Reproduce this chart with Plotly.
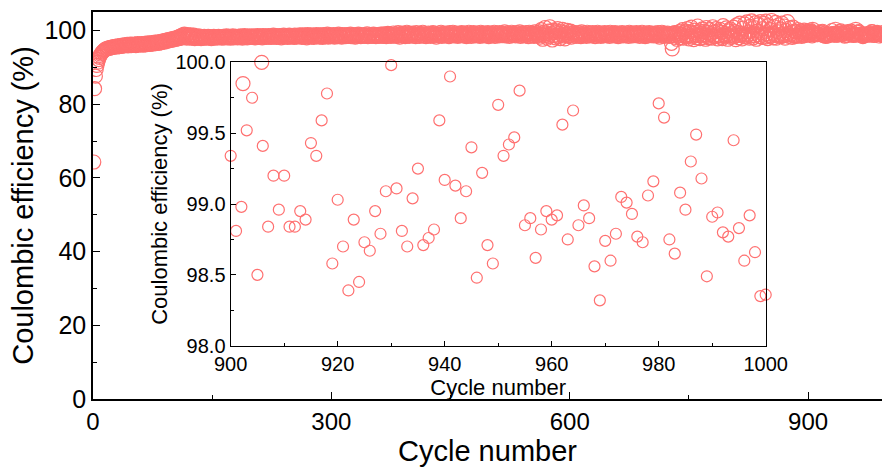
import plotly.graph_objects as go

# ---------------- data ----------------
# Coulombic efficiency (%) of the full run, listed by starting cycle
ce_c001 = [64.3, 84.2, 87.6, 89.4, 90.5, 91.4, 92.1, 92.7, 93.2, 93.6, 93.9, 94.2, 94.4, 94.6, 94.8, 94.9, 95.1, 95.0, 95.2, 95.3,
           95.1, 95.4, 95.3, 95.5, 95.4, 95.6, 95.5, 95.7, 95.6, 95.5, 95.8, 95.7, 95.6, 95.9, 95.8, 95.7, 96.0, 95.8, 95.9, 96.1,
           95.9, 96.0, 96.2, 95.8, 96.1, 96.0, 96.3, 95.9, 96.2, 96.1, 96.0, 96.3, 96.2, 95.9, 96.1, 96.4, 96.0, 96.2, 96.3, 96.1,
           96.4, 96.2, 96.0, 96.3, 96.5, 96.1, 96.4, 96.2, 96.6, 96.3, 96.5, 96.2, 96.4, 96.7, 96.3, 96.6, 96.5, 96.8, 96.4, 96.7,
           96.6, 96.9, 96.5, 96.8, 97.0, 96.7, 97.1, 96.9, 97.2, 96.8, 97.3, 97.0, 97.4, 97.1, 97.5, 97.2, 97.6, 97.3, 97.7, 97.4]
ce_c101 = [97.8, 97.5, 97.9, 97.6, 98.0, 97.7, 98.2, 97.8, 98.4, 97.9, 98.6, 98.0, 98.8, 98.2, 99.0, 98.1, 98.7, 97.9, 98.9, 98.3,
           98.6, 98.0, 98.8, 97.9, 98.5, 98.2, 98.7, 97.8, 98.4, 98.1, 98.3, 97.9, 98.5, 98.0, 98.2, 97.8, 98.3, 98.1, 97.9, 98.4,
           98.0, 98.3, 97.9, 98.2, 98.4, 98.0, 98.1, 98.3, 97.8, 98.2, 98.0, 98.4, 98.1, 97.9, 98.3, 98.2, 98.0, 98.4, 98.1, 98.2,
           98.3, 97.9, 98.2, 98.4, 98.0, 98.3, 98.1, 98.5, 98.0, 98.2, 98.4, 98.1, 97.9, 98.3, 98.2, 98.5, 98.0, 98.3, 98.1, 98.4,
           98.2, 98.0, 98.4, 98.3, 98.1, 98.5, 98.2, 97.9, 98.4, 98.2, 98.6, 98.1, 98.3, 98.0, 98.4, 98.2, 98.5, 98.1, 98.3, 98.4]
ce_c201 = [98.1, 98.5, 98.2, 98.0, 98.4, 98.3, 98.6, 98.1, 98.3, 98.5, 98.2, 98.4, 98.0, 98.6, 98.3, 98.2, 98.5, 98.1, 98.4, 98.3,
           98.6, 98.2, 98.4, 98.1, 98.5, 98.3, 98.7, 98.2, 98.4, 98.6, 98.1, 98.5, 98.3, 98.2, 98.6, 98.4, 98.0, 98.5, 98.3, 98.7,
           98.2, 98.4, 98.6, 98.3, 98.1, 98.5, 98.7, 98.2, 98.4, 98.6, 98.3, 98.5, 98.1, 98.7, 98.4, 98.2, 98.6, 98.3, 98.5, 98.8,
           98.3, 98.6, 98.1, 98.8, 98.4, 98.2, 98.7, 98.5, 98.0, 98.9, 98.3, 98.6, 98.4, 98.8, 98.2, 98.5, 98.7, 98.1, 98.6, 98.4,
           98.9, 98.3, 98.5, 98.7, 98.2, 98.8, 98.4, 98.6, 98.1, 98.9, 98.5, 98.3, 98.7, 98.4, 99.0, 98.2, 98.6, 98.8, 98.3, 98.5]
ce_c301 = [98.7, 98.4, 98.9, 98.2, 98.6, 98.5, 98.8, 98.3, 99.0, 98.5, 98.4, 98.7, 98.2, 98.9, 98.6, 98.4, 98.8, 98.3, 98.6, 98.9,
           98.4, 98.7, 98.5, 99.0, 98.3, 98.6, 98.8, 98.4, 98.7, 98.2, 98.9, 98.5, 98.6, 99.0, 98.4, 98.7, 98.3, 98.8, 98.6, 98.5,
           98.9, 98.4, 98.7, 98.6, 99.1, 98.3, 98.8, 98.5, 98.7, 98.9, 98.4, 98.6, 99.0, 98.5, 98.8, 98.3, 98.7, 98.9, 98.6, 98.4,
           98.8, 99.0, 98.5, 98.7, 98.4, 99.1, 98.6, 98.9, 98.3, 98.8, 99.2, 98.5, 98.7, 99.0, 98.4, 98.9, 98.6, 99.3, 98.5, 98.8,
           99.1, 98.4, 98.9, 99.4, 98.6, 98.2, 99.0, 98.7, 99.3, 98.5, 98.9, 99.2, 98.3, 98.8, 99.5, 98.6, 99.0, 98.4, 99.2, 98.7]
ce_c401 = [98.9, 99.3, 98.5, 98.8, 99.1, 98.3, 99.4, 98.7, 98.9, 99.0, 98.4, 99.2, 98.6, 98.8, 99.5, 98.5, 99.1, 98.9, 98.3, 99.0,
           98.7, 99.3, 98.6, 99.0, 98.4, 99.2, 98.8, 99.4, 98.5, 98.9, 99.1, 98.2, 99.0, 98.7, 99.3, 98.6, 98.9, 99.5, 98.4, 99.1,
           98.8, 99.0, 98.5, 99.3, 98.7, 98.9, 99.2, 98.3, 99.4, 98.6, 99.0, 98.8, 99.5, 98.5, 99.1, 98.7, 98.9, 99.3, 98.4, 99.0,
           98.6, 99.2, 98.8, 99.4, 98.5, 99.0, 98.7, 99.3, 98.9, 98.3, 99.1, 98.6, 99.5, 98.8, 99.0, 98.4, 99.2, 98.7, 99.4, 98.9,
           98.5, 99.1, 98.8, 99.3, 98.6, 99.0, 98.4, 99.5, 98.7, 99.2, 98.9, 98.5, 99.3, 98.8, 99.0, 98.6, 99.4, 98.3, 99.1, 98.9]
ce_c501 = [99.2, 98.6, 99.0, 98.8, 99.5, 98.4, 99.1, 98.7, 99.3, 98.9, 98.5, 99.4, 98.8, 99.0, 98.6, 99.2, 98.9, 99.6, 98.5, 99.0,
           98.7, 99.3, 98.9, 98.4, 99.1, 98.8, 99.5, 98.6, 99.2, 98.9, 99.0, 98.5, 99.4, 98.7, 99.1, 98.8, 99.6, 98.4, 99.0, 99.3,
           98.6, 99.2, 98.9, 98.5, 99.4, 98.8, 99.1, 98.3, 99.5, 98.7, 99.0, 99.3, 98.6, 99.2, 98.4, 99.6, 98.9, 99.1, 98.5, 99.3,
           98.8, 99.6, 98.2, 100.2, 98.9, 97.6, 99.4, 98.5, 100.8, 98.7, 99.1, 97.9, 99.8, 98.4, 101.0, 98.9, 99.3, 97.4, 100.1, 98.6,
           99.5, 98.0, 99.9, 98.7, 100.5, 98.3, 99.2, 97.8, 99.7, 98.9, 100.3, 98.5, 99.4, 97.7, 99.0, 98.8, 100.0, 98.4, 99.3, 98.6]
ce_c601 = [99.8, 98.2, 99.1, 98.9, 99.5, 98.7, 99.2, 98.4, 99.0, 98.8, 99.4, 98.5, 99.1, 98.3, 99.6, 98.9, 98.6, 99.3, 98.7, 99.0,
           98.4, 99.5, 98.8, 99.1, 98.6, 99.3, 98.5, 98.9, 99.4, 98.7, 99.0, 98.3, 99.2, 98.8, 99.5, 98.6, 99.1, 98.9, 98.4, 99.3,
           98.7, 99.0, 98.5, 99.4, 98.8, 99.1, 98.6, 99.3, 98.9, 98.4, 99.5, 98.7, 99.0, 98.8, 99.2, 98.5, 99.4, 98.9, 98.6, 99.1,
           98.3, 99.3, 98.8, 99.0, 98.7, 99.4, 98.5, 99.1, 98.9, 98.6, 99.3, 98.8, 99.0, 98.4, 99.5, 98.7, 99.2, 98.9, 98.5, 99.3,
           98.8, 99.1, 98.6, 99.4, 98.9, 98.7, 99.2, 98.4, 99.0, 98.8, 99.5, 98.6, 99.1, 98.9, 98.3, 99.3, 98.7, 99.0, 98.5, 99.4]
ce_c701 = [98.8, 99.1, 98.6, 99.2, 98.9, 98.5, 99.3, 98.8, 99.0, 98.6, 99.4, 98.9, 98.2, 99.1, 98.7, 99.5, 98.8, 99.0, 98.4, 99.2,
           98.9, 98.6, 99.3, 98.7, 99.0, 98.4, 99.1, 96.5, 95.0, 99.2, 98.6, 99.4, 98.1, 98.9, 97.6, 99.3, 98.5, 99.7, 98.0, 99.0,
           98.7, 100.2, 97.9, 99.4, 98.6, 99.8, 98.3, 100.5, 98.9, 97.7, 99.6, 98.5, 100.9, 98.2, 99.3, 97.5, 100.1, 98.8, 99.5, 98.0,
           101.2, 98.6, 99.9, 97.8, 99.2, 98.7, 100.4, 98.1, 99.7, 98.9, 97.6, 100.8, 98.4, 99.4, 98.0, 100.2, 98.8, 99.1, 97.9, 101.0,
           98.5, 99.6, 98.3, 100.5, 98.9, 97.7, 99.8, 98.6, 100.3, 98.2, 99.5, 97.8, 101.3, 98.7, 99.2, 98.4, 100.7, 98.9, 97.6, 99.9]
ce_c801 = [98.5, 100.4, 98.1, 99.3, 98.8, 100.9, 98.3, 99.7, 97.5, 101.5, 98.6, 99.4, 98.0, 102.0, 98.8, 99.1, 97.7, 100.6, 98.4, 101.8,
           99.0, 98.2, 102.3, 98.7, 99.6, 97.9, 101.1, 98.5, 102.6, 99.2, 98.0, 100.8, 98.6, 102.1, 97.6, 99.8, 98.9, 101.6, 98.3, 102.4,
           99.4, 98.1, 100.5, 98.7, 101.9, 98.2, 102.5, 99.0, 97.8, 101.3, 98.6, 100.2, 98.4, 102.7, 99.3, 98.0, 101.0, 98.8, 102.2, 97.9,
           99.7, 98.5, 101.5, 98.9, 100.4, 98.3, 102.0, 99.1, 98.6, 101.2, 97.9, 100.0, 98.7, 102.4, 99.2, 98.4, 100.7, 98.8, 99.5, 98.1,
           100.9, 98.6, 99.8, 98.3, 99.6, 98.7, 100.2, 98.5, 99.3, 98.9, 99.9, 98.4, 99.5, 98.8, 100.1, 98.6, 99.2, 98.9, 99.7]

# last 100 cycles (shown in the inset), cycles 900 ... 1000
inset_cycles = list(range(900, 1001))
inset_ce = [99.34, 98.81, 98.98, 99.52, 99.75, 98.50, 99.41, 98.84, 99.20, 98.96,
            99.20, 98.84, 98.84, 98.95, 98.89, 99.43, 99.34, 99.59, 99.78, 98.58,
            99.03, 98.70, 98.39, 98.89, 98.45, 98.73, 98.67, 98.95, 98.79, 99.09,
            99.98, 99.11, 98.81, 98.70, 99.04, 99.25, 98.71, 98.76, 98.82, 99.59,
            99.17, 99.90, 99.13, 98.90, 99.09, 99.40, 98.48, 99.22, 98.71, 98.58,
            99.70, 99.34, 99.42, 99.47, 99.80, 98.85, 98.90, 98.62, 98.82, 98.95,
            98.89, 98.92, 99.56, 98.75, 99.66, 98.85, 98.99, 98.90, 98.56, 98.32,
            98.74, 98.60, 98.79, 99.05, 99.01, 98.93, 98.77, 98.73, 99.06, 99.16,
            99.71, 99.61, 98.75, 98.65, 99.08, 98.96, 99.30, 99.49, 99.18, 98.49,
            98.91, 98.94, 98.80, 98.77, 99.45, 98.83, 98.60, 98.92, 98.66, 98.35,
            98.36]
# a few additional (larger) points seen near 100 %
extra_cycles = [902.3, 905.8, 934.3, 960.0]
extra_ce = [99.85, 100.0, 100.05, 100.02]

main_x_ticks = [0, 300, 600, 900]
main_y_ticks = [0, 20, 40, 60, 80, 100]
inset_x_ticks = [900, 920, 940, 960, 980, 1000]
inset_y_ticks = [98.0, 98.5, 99.0, 99.5, 100.0]

segments = [(1, ce_c001), (101, ce_c101), (201, ce_c201), (301, ce_c301), (401, ce_c401),
            (501, ce_c501), (601, ce_c601), (701, ce_c701), (801, ce_c801)]
main_cycles, main_ce = [], []
for start, vals in segments:
    main_cycles += list(range(start, start + len(vals)))
    main_ce += vals
main_cycles += inset_cycles
main_ce += inset_ce

# ---------------- figure ----------------
RED = "rgb(255,112,112)"
FONT = "Arial, Liberation Sans, sans-serif"

fig = go.Figure()
fig.add_trace(go.Scatter(x=main_cycles, y=main_ce, mode="markers", xaxis="x", yaxis="y",
                         marker=dict(symbol="circle-open", size=14, color=RED, line=dict(width=1.2)),
                         showlegend=False))
fig.add_trace(go.Scatter(x=extra_cycles, y=extra_ce, mode="markers", xaxis="x", yaxis="y",
                         marker=dict(symbol="circle-open", size=16, color=RED, line=dict(width=1.2)),
                         showlegend=False))
fig.add_trace(go.Scatter(x=inset_cycles, y=inset_ce, mode="markers", xaxis="x2", yaxis="y2",
                         marker=dict(symbol="circle-open", size=11, color=RED, line=dict(width=1.2)),
                         cliponaxis=False, showlegend=False))
fig.add_trace(go.Scatter(x=extra_cycles, y=extra_ce, mode="markers", xaxis="x2", yaxis="y2",
                         marker=dict(symbol="circle-open", size=14, color=RED, line=dict(width=1.2)),
                         cliponaxis=False, showlegend=False))

axis_common = dict(showline=True, linecolor="black", showgrid=False, zeroline=False,
                   ticks="inside", tickcolor="black", automargin=False)

fig.update_layout(
    width=882, height=468, autosize=False,
    margin=dict(l=93, r=0, t=12, b=69, autoexpand=False),
    paper_bgcolor="white", plot_bgcolor="white",
    font=dict(family=FONT, color="black"),
    xaxis=dict(**axis_common, domain=[0, 1], range=[0, 993], tickvals=main_x_ticks,
               linewidth=1.6, mirror=True, ticklen=7, tickwidth=1.4,
               minor=dict(ticks="inside", dtick=150, ticklen=4, tickwidth=1.2, tickcolor="black"),
               tickfont=dict(size=24),
               title=dict(text="Cycle number", font=dict(size=29), standoff=6)),
    yaxis=dict(**axis_common, domain=[0, 1], range=[0, 105], tickvals=main_y_ticks,
               linewidth=1.6, ticklen=7, tickwidth=1.4,
               minor=dict(ticks="inside", dtick=10, ticklen=4, tickwidth=1.2, tickcolor="black"),
               tickfont=dict(size=25),
               title=dict(text="Coulombic efficiency (%)", font=dict(size=29), standoff=2)),
    xaxis2=dict(**axis_common, anchor="y2", domain=[0.1745, 0.8526], range=[900, 1000],
                tickvals=inset_x_ticks, linewidth=1.3, mirror=True, ticklen=5, tickwidth=1.2,
                minor=dict(ticks="inside", dtick=10, ticklen=3, tickwidth=1.0, tickcolor="black"),
                tickfont=dict(size=20),
                title=dict(text="Cycle number", font=dict(size=22), standoff=1)),
    yaxis2=dict(**axis_common, anchor="x2", domain=[0.1377, 0.870], range=[98, 100],
                tickvals=inset_y_ticks, tickformat=".1f", linewidth=1.3, mirror=True,
                ticklen=5, tickwidth=1.2,
                minor=dict(ticks="inside", dtick=0.25, ticklen=3, tickwidth=1.0, tickcolor="black"),
                tickfont=dict(size=20),
                title=dict(text="Coulombic efficiency (%)", font=dict(size=22), standoff=1)),
)

fig.write_html("out.html",
               config={"responsive": False, "displayModeBar": False},
               post_script="document.body.style.margin='0';document.body.style.padding='0';"
                           "document.body.style.overflow='hidden';"
                           "document.documentElement.style.overflow='hidden';")
